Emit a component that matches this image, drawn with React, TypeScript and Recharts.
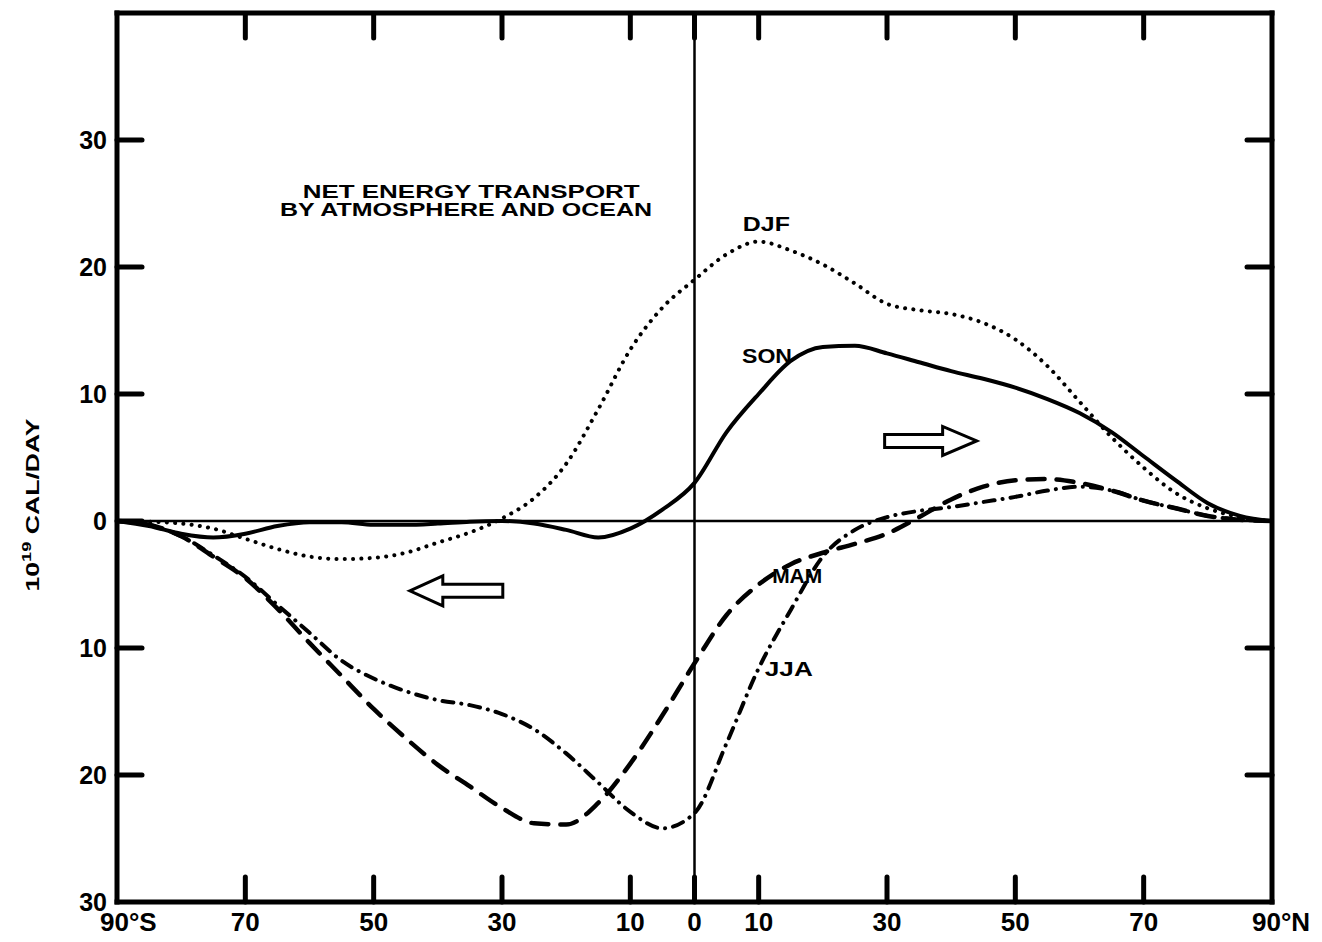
import React from 'react';
import { LineChart, Line, XAxis, YAxis, ReferenceLine, ReferenceDot } from 'recharts';

// Latitude (negative = south), 5° steps
const latitudes = [-90, -85, -80, -75, -70, -65, -60, -55, -50, -45, -40, -35, -30, -25, -20, -15, -10, -5, 0, 5, 10, 15, 20, 25, 30, 35, 40, 45, 50, 55, 60, 65, 70, 75, 80, 85, 90];

// Net energy transport, 10^19 cal/day (positive = northward)
const djf = [0, -0.05, -0.2, -0.6, -1.4, -2.2, -2.8, -3.0, -2.9, -2.5, -1.7, -0.9, 0.2, 1.8, 4.5, 8.8, 13.5, 16.8, 19.0, 21.0, 22.0, 21.3, 20.2, 18.7, 17.1, 16.6, 16.3, 15.6, 14.3, 12.2, 9.4, 6.6, 4.2, 2.2, 1.0, 0.3, 0];
const son = [0, -0.4, -1.0, -1.3, -1.0, -0.4, -0.1, -0.1, -0.3, -0.3, -0.2, -0.05, 0, -0.2, -0.7, -1.3, -0.6, 0.9, 3.0, 7.0, 10.0, 12.6, 13.7, 13.8, 13.2, 12.5, 11.8, 11.2, 10.5, 9.6, 8.5, 7.0, 5.1, 3.2, 1.4, 0.4, 0];
const mam = [0, -0.3, -1.2, -2.8, -4.5, -6.9, -9.6, -12.2, -14.8, -17.1, -19.2, -20.9, -22.6, -23.8, -23.9, -22.2, -19.1, -15.3, -11.2, -7.4, -5.0, -3.4, -2.5, -1.8, -1.0, 0.3, 1.7, 2.7, 3.2, 3.3, 3.0, 2.4, 1.6, 1.0, 0.4, 0.1, 0];
const jja = [0, -0.3, -1.2, -2.7, -4.4, -6.6, -8.8, -11.0, -12.4, -13.4, -14.1, -14.5, -15.2, -16.4, -18.3, -20.6, -22.9, -24.2, -23.0, -17.5, -11.6, -7.0, -2.8, -0.7, 0.3, 0.8, 1.1, 1.5, 1.9, 2.4, 2.7, 2.4, 1.6, 1.0, 0.4, 0.1, 0];

// Axis ticks
const xTicks = [-90, -70, -50, -30, -10, 0, 10, 30, 50, 70, 90];
const xTickLabels = ['90°S', '70', '50', '30', '10', '0', '10', '30', '50', '70', '90°N'];
const yTicks = [-30, -20, -10, 0, 10, 20, 30];
const yTickLabels = ['30', '20', '10', '0', '10', '20', '30'];
const Y_MIN = -30;
const Y_MAX = 40;

// Annotations (data coordinates)
const seasonLabels = [
  { text: 'DJF', lat: 11.2, value: 23.4, len: 47 },
  { text: 'SON', lat: 11.3, value: 13.0, len: 50 },
  { text: 'MAM', lat: 16.0, value: -4.3, len: 50 },
  { text: 'JJA', lat: 14.7, value: -11.6, len: 48 },
];
const titleLines = [
  { text: 'NET ENERGY TRANSPORT', lat: -34.8, value: 25.9, len: 337 },
  { text: 'BY ATMOSPHERE AND OCEAN', lat: -35.6, value: 24.5, len: 372 },
];
const arrows = [
  { dir: 'left', lat: -37.2, value: -5.5 },
  { dir: 'right', lat: 36.8, value: 6.3 },
];

const innerTicks = xTicks.filter((t) => Math.abs(t) !== 90);
const data = latitudes.map((lat, i) => ({
  lat,
  djf: djf[i],
  son: son[i],
  mam: mam[i],
  jja: jja[i],
  // marker rows for the inward ticks on the top edge of the frame
  topMark: innerTicks.includes(lat) ? Y_MAX : null,
}));

const FONT = "'Liberation Sans', Arial, Helvetica, sans-serif";
const TICK_LEN = 25;
const TICK_W = 5;
const CHART_W = 1312;
const CHART_H = 934;
const axisLine = { stroke: '#000', strokeWidth: 5, strokeLinecap: 'square' as const };

function BottomTick(props: any) {
  const { x, y, payload } = props;
  const v = payload.value;
  const label = xTickLabels[xTicks.indexOf(v)];
  let tx = x;
  let anchor: any = 'middle';
  if (v === -90) { tx = x - 17; anchor = 'start'; }
  if (v === 90) { tx = x - 20; anchor = 'start'; }
  const edge = Math.abs(v) === 90;
  return (
    <g>
      {!edge && (
        <line x1={x} y1={y} x2={x} y2={y - TICK_LEN} stroke="#000" strokeWidth={TICK_W} strokeLinecap="round" />
      )}
      <text x={tx} y={y + 29} textAnchor={anchor} fontFamily={FONT} fontWeight="bold" fontSize={26} fill="#000">
        {label}
      </text>
    </g>
  );
}

function LeftTick(props: any) {
  const { x, y, payload } = props;
  const v = payload.value;
  const label = yTickLabels[yTicks.indexOf(v)];
  return (
    <g>
      {v !== -30 && (
        <line x1={x} y1={y} x2={x + TICK_LEN} y2={y} stroke="#000" strokeWidth={TICK_W} strokeLinecap="round" />
      )}
      <text x={x - 10} y={y + 9} textAnchor="end" fontFamily={FONT} fontWeight="bold" fontSize={25} fill="#000">
        {label}
      </text>
    </g>
  );
}

function RightTick(props: any) {
  const { x, y, payload } = props;
  const v = payload.value;
  if (v === -30 || v === 0) return <g />;
  return <line x1={x} y1={y} x2={x - TICK_LEN} y2={y} stroke="#000" strokeWidth={TICK_W} strokeLinecap="round" />;
}

function TopMarkDot(props: any) {
  const { cx, cy, value, index } = props;
  const key = 'tm' + index;
  if (value == null || cy == null || cx == null || !isFinite(cx) || !isFinite(cy)) return <g key={key} />;
  return (
    <line key={key} x1={cx} y1={cy} x2={cx} y2={cy + TICK_LEN} stroke="#000" strokeWidth={TICK_W} strokeLinecap="round" />
  );
}

function Arrow({ cx, cy, dir }: { cx: number; cy: number; dir: string }) {
  const s = dir === 'left' ? -1 : 1;
  const tip = 46;
  const headBase = dir === 'left' ? 13 : 12;
  const headH = dir === 'left' ? 15 : 14.5;
  const shaftH = 6.5;
  const tail = dir === 'left' ? 47 : 46;
  const pts = [
    [cx + s * tip, cy],
    [cx + s * headBase, cy - headH],
    [cx + s * headBase, cy - shaftH],
    [cx - s * tail, cy - shaftH],
    [cx - s * tail, cy + shaftH],
    [cx + s * headBase, cy + shaftH],
    [cx + s * headBase, cy + headH],
  ];
  const d = 'M' + pts.map((p) => p[0] + ',' + p[1]).join(' L') + ' Z';
  return <path d={d} fill="#fff" stroke="#000" strokeWidth={3} strokeLinejoin="miter" />;
}

function CenterText({ cx, cy, text, len, size }: { cx: number; cy: number; text: string; len: number; size: number }) {
  return (
    <text
      x={cx}
      y={cy}
      textAnchor="middle"
      dominantBaseline="central"
      fontFamily={FONT}
      fontWeight="bold"
      fontSize={size}
      fill="#000"
      textLength={len}
      lengthAdjust="spacingAndGlyphs"
    >
      {text}
    </text>
  );
}

function YTitle({ cx, cy }: { cx: number; cy: number }) {
  const X = cx - 85;
  const Y = cy;
  return (
    <text
      x={X}
      y={Y + 7}
      transform={`rotate(-90 ${X} ${Y})`}
      textAnchor="middle"
      fontFamily={FONT}
      fontWeight="bold"
      fontSize={19}
      fill="#000"
      textLength={173}
      lengthAdjust="spacingAndGlyphs"
    >
      10
      <tspan dy={-8} fontSize={13}>19</tspan>
      <tspan dy={8}> CAL/DAY</tspan>
    </text>
  );
}

export default function App() {
  return (
    <div style={{ marginBottom: -8 }}>
      <LineChart width={CHART_W} height={CHART_H} data={data} margin={{ top: 0, right: 0, bottom: 0, left: 0 }}>
        <XAxis
          xAxisId="b"
          orientation="bottom"
          type="number"
          dataKey="lat"
          domain={[-90, 90]}
          ticks={xTicks}
          interval={0}
          height={40}
          tickSize={0}
          tickMargin={0}
          tickLine={false}
          axisLine={axisLine}
          tick={(p: any) => <BottomTick {...p} />}
          allowDataOverflow
        />
        <XAxis
          xAxisId="t"
          orientation="top"
          type="number"
          dataKey="lat"
          domain={[-90, 90]}
          height={5}
          tickSize={0}
          tickLine={false}
          axisLine={axisLine}
          tick={false}
          allowDataOverflow
        />
        <YAxis
          yAxisId="l"
          orientation="left"
          type="number"
          domain={[Y_MIN, Y_MAX]}
          ticks={yTicks}
          interval={0}
          width={109}
          tickSize={0}
          tickMargin={0}
          tickLine={false}
          axisLine={axisLine}
          tick={(p: any) => <LeftTick {...p} />}
          allowDataOverflow
        />
        <YAxis
          yAxisId="r"
          orientation="right"
          type="number"
          domain={[Y_MIN, Y_MAX]}
          ticks={yTicks}
          interval={0}
          width={48}
          tickSize={0}
          tickMargin={0}
          tickLine={false}
          axisLine={axisLine}
          tick={(p: any) => <RightTick {...p} />}
          allowDataOverflow
        />
        <ReferenceLine xAxisId="b" yAxisId="l" y={0} stroke="#000" strokeWidth={2.5} />
        <ReferenceLine xAxisId="b" yAxisId="l" x={0} stroke="#000" strokeWidth={2.5} />

        <Line
          xAxisId="b"
          yAxisId="l"
          dataKey="topMark"
          stroke="none"
          connectNulls={false}
          dot={(p: any) => <TopMarkDot {...p} />}
          activeDot={false}
          isAnimationActive={false}
        />

        <Line xAxisId="b" yAxisId="l" dataKey="djf" type="monotone" stroke="#000" strokeWidth={4} strokeDasharray="0.1 8.2" strokeLinecap="round" dot={false} activeDot={false} isAnimationActive={false} />
        <Line xAxisId="b" yAxisId="l" dataKey="son" type="monotone" stroke="#000" strokeWidth={4} dot={false} activeDot={false} isAnimationActive={false} />
        <Line xAxisId="b" yAxisId="l" dataKey="mam" type="monotone" stroke="#000" strokeWidth={4.5} strokeDasharray="17 12" strokeLinecap="round" dot={false} activeDot={false} isAnimationActive={false} />
        <Line xAxisId="b" yAxisId="l" dataKey="jja" type="monotone" stroke="#000" strokeWidth={4} strokeDasharray="11 8 0.1 8" strokeLinecap="round" dot={false} activeDot={false} isAnimationActive={false} />

        {titleLines.map((t) => (
          <ReferenceDot
            key={t.text}
            xAxisId="b"
            yAxisId="l"
            x={t.lat}
            y={t.value}
            ifOverflow="visible"
            shape={(p: any) => <CenterText cx={p.cx} cy={p.cy} text={t.text} len={t.len} size={18} />}
          />
        ))}
        {seasonLabels.map((t) => (
          <ReferenceDot
            key={t.text}
            xAxisId="b"
            yAxisId="l"
            x={t.lat}
            y={t.value}
            ifOverflow="visible"
            shape={(p: any) => <CenterText cx={p.cx} cy={p.cy} text={t.text} len={t.len} size={21} />}
          />
        ))}
        {arrows.map((a) => (
          <ReferenceDot
            key={a.dir}
            xAxisId="b"
            yAxisId="l"
            x={a.lat}
            y={a.value}
            ifOverflow="visible"
            shape={(p: any) => <Arrow cx={p.cx} cy={p.cy} dir={a.dir} />}
          />
        ))}
        <ReferenceDot
          xAxisId="b"
          yAxisId="l"
          x={-90}
          y={1.26}
          ifOverflow="visible"
          shape={(p: any) => <YTitle cx={p.cx} cy={p.cy} />}
        />
      </LineChart>
    </div>
  );
}
